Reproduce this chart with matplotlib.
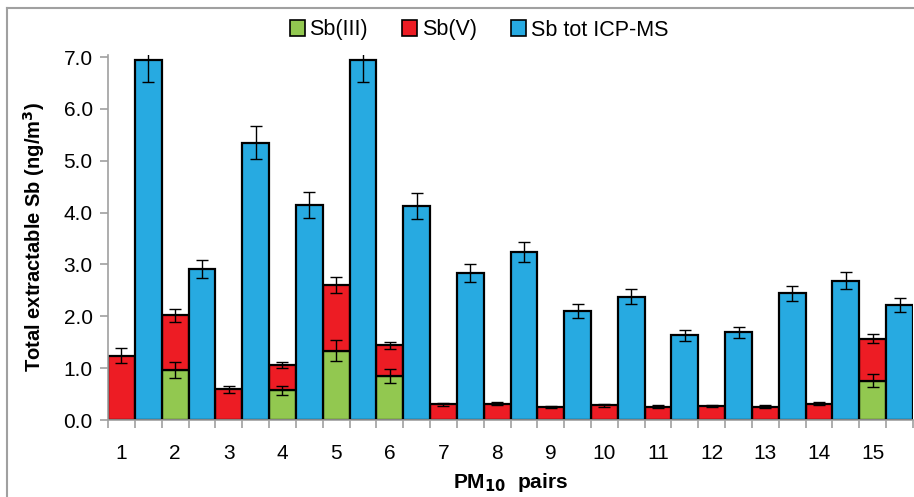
""" Sb(III), Sb(V) e Sb total (ICP-MS) por par de PM10 """

import numpy as np
import matplotlib
matplotlib.use("Agg")
import matplotlib.pyplot as plt
from matplotlib.patches import Patch
from matplotlib.lines import Line2D

plt.rcParams['font.family'] = ['Liberation Sans', 'DejaVu Sans']

# Dados
pairs = [str(i) for i in range(1, 16)]
sb3 = [0, 0.96, 0, 0.57, 1.34, 0.85, 0, 0, 0, 0, 0, 0, 0, 0, 0.76]
sb3_err = [0, 0.15, 0, 0.09, 0.21, 0.13, 0, 0, 0, 0, 0, 0, 0, 0, 0.12]
sb5 = [1.24, 1.06, 0.59, 0.49, 1.26, 0.59, 0.30, 0.31, 0.25, 0.28,
       0.26, 0.27, 0.26, 0.31, 0.81]
sb5_err = [0.15, 0.13, 0.07, 0.06, 0.15, 0.07, 0.03, 0.03, 0.02, 0.02,
           0.02, 0.02, 0.02, 0.03, 0.09]
icp = [6.94, 2.91, 5.35, 4.15, 6.94, 4.12, 2.83, 3.24, 2.10, 2.38,
       1.63, 1.69, 2.44, 2.69, 2.22]
icp_err = [0.42, 0.18, 0.32, 0.25, 0.42, 0.25, 0.17, 0.19, 0.13, 0.15,
           0.10, 0.10, 0.14, 0.16, 0.14]

green = '#92C850'
red = '#ED1C24'
blue = '#27AAE1'
grey = '#A0A0A0'

n = len(pairs)
x_sp = np.arange(n) * 2        # especiacao
x_icp = x_sp + 1               # ICP-MS
sb3 = np.array(sb3)
sb5 = np.array(sb5)

fig = plt.figure(figsize=(9.14, 4.97), dpi=100)
ax = fig.add_axes([108 / 914, 1 - 420 / 497, 805 / 914, 365 / 497])

ekw = dict(ecolor='black', elinewidth=1.0, capsize=4, capthick=1.0)

ax.bar(x_sp, sb3, width=1.0, color=green, edgecolor='black', linewidth=1.6, zorder=2)
mask = sb3 > 0
ax.errorbar(x_sp[mask], sb3[mask], yerr=np.array(sb3_err)[mask], fmt='none',
            zorder=3, **ekw)
ax.bar(x_sp, sb5, bottom=sb3, width=1.0, color=red, edgecolor='black',
       linewidth=1.6, zorder=2)
ax.errorbar(x_sp, sb3 + sb5, yerr=sb5_err, fmt='none', zorder=3, **ekw)
ax.bar(x_icp, icp, width=1.0, color=blue, edgecolor='black', linewidth=1.6, zorder=2)
ax.errorbar(x_icp, icp, yerr=icp_err, fmt='none', zorder=3, **ekw)

ax.set_xlim(-0.5, 2 * n - 0.5)
ax.set_ylim(0, 7.04)
ax.set_yticks(np.arange(0, 7.5, 1.0))
ax.set_yticklabels([f"{v:.1f}" for v in np.arange(0, 7.5, 1.0)])

ax.set_xticks(np.arange(-0.5, 2 * n, 1.0))
ax.set_xticklabels([])
ax.set_xticks(x_sp, minor=True)
ax.set_xticklabels(pairs, minor=True)
ax.tick_params(axis='x', which='major', length=6, width=1.2, color=grey, direction='out')
ax.tick_params(axis='x', which='minor', length=0, labelsize=15, pad=17)
ax.tick_params(axis='y', length=6, width=1.2, color=grey, labelsize=15, pad=5)

for s in ['top', 'right']:
    ax.spines[s].set_visible(False)
for s in ['left', 'bottom']:
    ax.spines[s].set_color(grey)
    ax.spines[s].set_linewidth(1.2)

ax.set_ylabel('Total extractable Sb (ng/m$^{\\mathbf{3}}$)', fontsize=14.5,
              fontweight='bold', labelpad=12)
ax.set_xlabel('PM$_{\\mathbf{10}}$  pairs', fontsize=15, fontweight='bold', labelpad=6)

handles = [Patch(facecolor=green, edgecolor='black', linewidth=1.2),
           Patch(facecolor=red, edgecolor='black', linewidth=1.2),
           Patch(facecolor=blue, edgecolor='black', linewidth=1.2)]
fig.legend(handles, ['Sb(III)', 'Sb(V)', 'Sb tot ICP-MS'], loc='center',
           bbox_to_anchor=(0.524, 1 - 30 / 497), ncol=3, frameon=False,
           fontsize=15.5, handlelength=0.7, handleheight=0.7,
           handletextpad=0.2, columnspacing=1.6)

# moldura da figura
fig.add_artist(Line2D([7 / 914, 7 / 914], [0, 1 - 8 / 497], color=grey, lw=1.5))
fig.add_artist(Line2D([7 / 914, 1], [1 - 8 / 497, 1 - 8 / 497], color=grey, lw=1.5))

fig.savefig('out.png', dpi=100)
